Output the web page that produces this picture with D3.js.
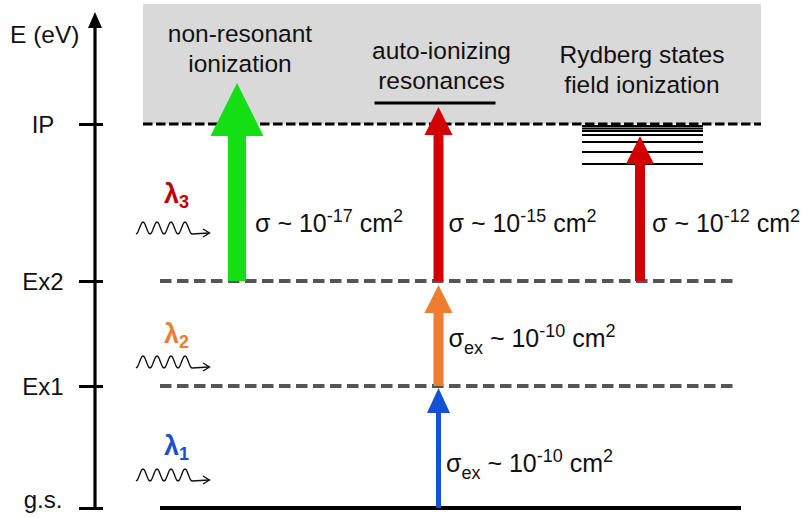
<!DOCTYPE html>
<html>
<head>
<meta charset="utf-8">
<script src="https://cdn.jsdelivr.net/npm/d3@7"></script>
<style>
  body { margin: 0; background: #fff; }
  svg { display: block; }
  text { font-family: "Liberation Sans", Arial, Helvetica, sans-serif; fill: #111; }
</style>
</head>
<body>
<svg id="chart" width="806" height="518"></svg>
<script>
// Bound levels of the atom (schematic energies, eV)
const levelNames = ["g.s.", "Ex1", "Ex2", "IP"];
const levelEnergies = [0, 2.44, 4.54, 7.68];
const continuumTop = 10.08;

// Levels reached above / just below the ionization potential
const autoionizingLevel = 8.1;
const rydbergLevels = [7.64, 7.59, 7.54, 7.46, 7.32, 7.12, 6.88];

// Ionization pathways and their titles
const pathways = ["non-resonant", "auto-ionizing", "rydberg"];
const pathwayTitles = [["non-resonant", "ionization"], ["auto-ionizing", "resonances"], ["Rydberg states", "field ionization"]];

// Laser excitation steps: pathway, lower and upper energies, cross-section exponent
const stepLaser = [3, 3, 3, 2, 1];
const stepPathway = [0, 1, 2, 1, 1];
const stepFrom = [4.54, 4.54, 4.54, 2.44, 0];
const stepTo = [8.5, 8.02, 7.44, 4.46, 2.40];
const crossSectionExp = [-17, -15, -12, -10, -10];
const crossSectionSub = ["", "", "", "ex", "ex"];

// Laser wavelengths and the level each one starts from
const lasers = [1, 2, 3];
const laserStartLevel = [0, 2.44, 4.54];

const svg = d3.select("#chart");

const y = d3.scaleLinear().domain([0, 10]).range([508, 8]);
const x = d3.scalePoint().domain(pathways).range([237, 640]);

// styling per laser step
const laserColor = { 1: "#1352d4", 2: "#ee7d31", 3: "#d20000" };
const laserLabelColor = { 1: "#1a4fd0", 2: "#ee7d31", 3: "#c00000" };
const laserLayout = {           // pixel offsets above the starting level
  1: { label: 53, wave: 33, sigma: 36 },
  2: { label: 43, wave: 24, sigma: 39 },
  3: { label: 78, wave: 53, sigma: 49 }
};

// continuum box above the ionization potential
svg.append("rect")
  .attr("x", 143).attr("width", 761 - 143)
  .attr("y", y(continuumTop)).attr("height", y(levelEnergies[3]) - y(continuumTop))
  .attr("fill", "#d9d9d9");

// energy axis
const axisX = 95;
const axis = d3.axisLeft(y)
  .tickValues(levelEnergies)
  .tickFormat((d, i) => levelNames[i])
  .tickSizeOuter(0);
const gAxis = svg.append("g").attr("transform", `translate(${axisX},0)`).call(axis);
gAxis.select(".domain").remove();
gAxis.selectAll(".tick line")
  .attr("x1", 8).attr("x2", -16)
  .attr("stroke", "#000").attr("stroke-width", 3);
gAxis.selectAll(".tick text")
  .attr("x", -52).attr("dy", null)
  .attr("y", (d, i) => i === 0 ? -1 : 8)
  .attr("text-anchor", "middle")
  .style("font-family", '"Liberation Sans", Arial, sans-serif')
  .style("font-size", "24px").attr("fill", "#111");

svg.append("line")
  .attr("x1", axisX).attr("x2", axisX)
  .attr("y1", y(0) + 1.5).attr("y2", y(9.6))
  .attr("stroke", "#000").attr("stroke-width", 3.2);
svg.append("path")
  .attr("d", `M${axisX - 7},${y(9.6)} L${axisX},${y(9.92)} L${axisX + 7},${y(9.6)} Z`)
  .attr("fill", "#000");
svg.append("text")
  .attr("x", 10).attr("y", 43)
  .style("font-size", "24.5px")
  .text("E (eV)");

// level lines
svg.append("line")
  .attr("x1", 143).attr("x2", 761)
  .attr("y1", y(levelEnergies[3])).attr("y2", y(levelEnergies[3]))
  .attr("stroke", "#000").attr("stroke-width", 3.2)
  .attr("stroke-dasharray", "9.5,3.5");
svg.selectAll("line.excited")
  .data(levelEnergies.slice(1, 3))
  .join("line").attr("class", "excited")
  .attr("x1", 160).attr("x2", 738)
  .attr("y1", d => y(d)).attr("y2", d => y(d))
  .attr("stroke", "#555").attr("stroke-width", 4)
  .attr("stroke-dasharray", "11.5,5.5");
svg.append("line")
  .attr("x1", 160).attr("x2", 741)
  .attr("y1", y(levelEnergies[0])).attr("y2", y(levelEnergies[0]))
  .attr("stroke", "#000").attr("stroke-width", 4);

// auto-ionizing state
const aiX = x("auto-ionizing");
svg.append("line")
  .attr("x1", aiX - 64).attr("x2", aiX + 57)
  .attr("y1", y(autoionizingLevel)).attr("y2", y(autoionizingLevel))
  .attr("stroke", "#000").attr("stroke-width", 3);

// Rydberg series converging to the IP
const ryX = x("rydberg");
svg.selectAll("line.rydberg")
  .data(rydbergLevels)
  .join("line").attr("class", "rydberg")
  .attr("x1", ryX - 58).attr("x2", ryX + 63)
  .attr("y1", d => y(d)).attr("y2", d => y(d))
  .attr("stroke", "#000").attr("stroke-width", 2.2);

// pathway titles
pathwayTitles.forEach((lines, i) => {
  const baseline = i === 0 ? 42 : (i === 1 ? 59 : 63);
  const t = svg.append("text")
    .attr("x", x(pathways[i]) + (i === 2 ? 2 : 3))
    .attr("y", baseline)
    .attr("text-anchor", "middle")
    .style("font-size", "24.5px");
  lines.forEach((ln, j) => {
    t.append("tspan")
      .attr("x", x(pathways[i]) + (i === 2 ? 2 : 3))
      .attr("dy", j === 0 ? 0 : 29.5)
      .text(ln);
  });
});

// transition arrows
function arrowPath(cx, yBase, yTip, shaftW, headW, headL) {
  const hb = yTip + headL;
  return `M${cx - shaftW / 2},${yBase} L${cx - shaftW / 2},${hb} L${cx - headW / 2},${hb}` +
    ` L${cx},${yTip} L${cx + headW / 2},${hb} L${cx + shaftW / 2},${hb} L${cx + shaftW / 2},${yBase} Z`;
}
const arrowGeom = i => {
  if (stepPathway[i] === 0) return { shaft: 18, head: 53, len: 53, color: "#14de14" };
  if (stepLaser[i] === 1) return { shaft: 5, head: 23, len: 25, color: laserColor[1] };
  return { shaft: 10, head: 28, len: 28, color: laserColor[stepLaser[i]] };
};
svg.selectAll("path.step")
  .data(d3.range(stepFrom.length))
  .join("path").attr("class", "step")
  .attr("d", i => {
    const g = arrowGeom(i);
    return arrowPath(x(pathways[stepPathway[i]]), y(stepFrom[i]), y(stepTo[i]), g.shaft, g.head, g.len);
  })
  .attr("fill", i => arrowGeom(i).color);

// cross-section labels
d3.range(stepFrom.length).forEach(i => {
  const g = arrowGeom(i);
  const cx = x(pathways[stepPathway[i]]);
  const tx = cx + g.shaft / 2 + (stepPathway[i] === 0 ? 9 : (stepPathway[i] === 2 ? 7 : 5));
  const ty = y(stepFrom[i]) - laserLayout[stepLaser[i]].sigma;
  const t = svg.append("text").attr("x", tx).attr("y", ty).style("font-size", "25px");
  t.append("tspan").text("σ");
  if (crossSectionSub[i]) {
    t.append("tspan").attr("dy", 7).style("font-size", "18px").text(crossSectionSub[i]);
    t.append("tspan").attr("dy", -7).text(" ~ 10");
  } else {
    t.append("tspan").text(" ~ 10");
  }
  t.append("tspan").attr("dy", -10).style("font-size", "18px").text(String(crossSectionExp[i]));
  t.append("tspan").attr("dy", 10).text(" cm");
  t.append("tspan").attr("dy", -10).style("font-size", "18px").text("2");
});

// laser labels with wavy photon symbols
lasers.forEach((n, i) => {
  const base = y(laserStartLevel[i]);
  const lay = laserLayout[n];
  const t = svg.append("text")
    .attr("x", 164).attr("y", base - lay.label)
    .style("font-size", "27px").style("font-weight", "bold")
    .attr("fill", laserLabelColor[n]);
  t.append("tspan").style("fill", laserLabelColor[n]).text("λ");
  t.append("tspan").attr("dy", 5).style("font-size", "18px").style("fill", laserLabelColor[n]).text(String(n));

  const wy = base - lay.wave;
  const pts = [];
  for (let k = 0; k <= 56; k++) {
    pts.push([136 + k, wy + 6 * Math.cos(2 * Math.PI * k / 14)]);
  }
  pts.push([209, wy + 5]);
  svg.append("path")
    .attr("d", d3.line()(pts))
    .attr("fill", "none").attr("stroke", "#111").attr("stroke-width", 1.4);
  svg.append("path")
    .attr("d", `M203,${wy + 1} L209.5,${wy + 5} L203,${wy + 9}`)
    .attr("fill", "none").attr("stroke", "#111").attr("stroke-width", 1.4);
});
</script>
</body>
</html>
